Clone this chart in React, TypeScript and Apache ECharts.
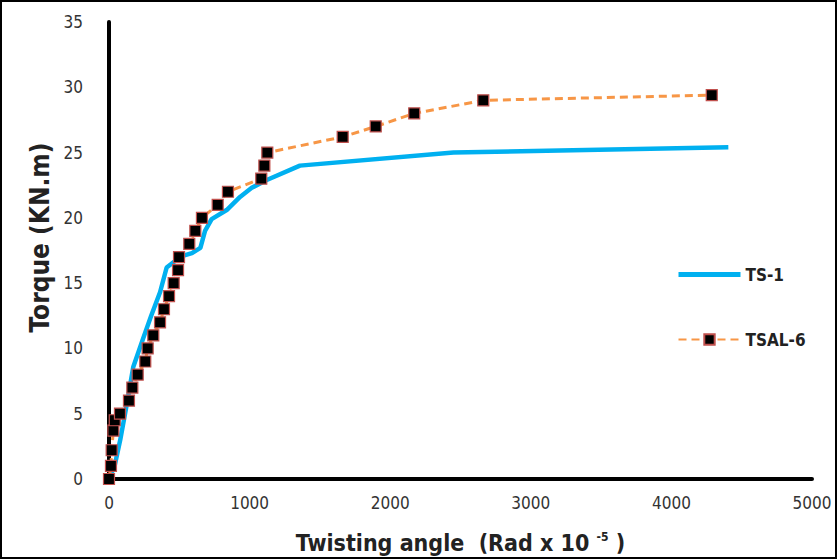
import React, { useEffect, useRef } from "react";
import * as echarts from "echarts";

// TS-1 (solid blue line)
const ts1Angle = [0, 40, 80, 126, 173, 244, 300, 363, 410, 470, 530, 590, 650, 683, 730, 837, 932, 1015, 1122, 1358, 2450, 4405];
const ts1Torque = [0, 1.0, 3.0, 5.7, 8.6, 10.8, 12.5, 14.3, 16.2, 16.7, 17.1, 17.3, 17.7, 19.0, 19.9, 20.6, 21.6, 22.3, 22.9, 24.0, 25.0, 25.4];

// TSAL-6 (dashed orange with square markers)
const tsalAngle = [0, 14, 19, 31, 41, 78, 142, 166, 204, 258, 275, 315, 363, 391, 427, 460, 491, 498, 571, 614, 661, 773, 846, 1083, 1105, 1126, 1662, 1897, 2171, 2662, 4287];
const tsalTorque = [0, 1, 2.2, 3.7, 4.5, 5, 6, 7, 8, 9, 10, 11, 12, 13, 14, 15, 16, 17, 18, 19, 20, 21, 22, 23, 24, 25, 26.2, 27, 28, 29, 29.4];

const xTicks = { min: 0, max: 5000, interval: 1000 };
const yTicks = { min: 0, max: 35, interval: 5 };

const FONT = '"Liberation Sans Narrow", "DejaVu Sans Condensed", "Liberation Sans", sans-serif';

export default function App() {
  const ref = useRef<HTMLDivElement>(null);
  useEffect(() => {
    if (!ref.current) return;
    const chart = echarts.init(ref.current, undefined, { renderer: "svg" });
    const ts1 = ts1Angle.map((a, i) => [a, ts1Torque[i]]);
    const tsal = tsalAngle.map((a, i) => [a, tsalTorque[i]]);
    chart.setOption({
      animation: false,
      backgroundColor: "#ffffff",
      grid: { left: 109, right: 25, top: 22, bottom: 73 },
      graphic: [
        {
          type: "rect",
          shape: { x: 1, y: 1, width: 835, height: 557 },
          style: { fill: "none", stroke: "#000", lineWidth: 2 },
          silent: true,
        },
      ],
      legend: {
        orient: "vertical",
        left: 671,
        top: 261,
        itemWidth: 62,
        itemHeight: 13,
        itemGap: 48,
        data: [
          { name: "TS-1", itemStyle: { opacity: 0 }, lineStyle: { width: 5, color: "#00B0F0" } },
          { name: "TSAL-6" },
        ],
        textStyle: { fontFamily: FONT, fontWeight: "bold", fontSize: 17, color: "#222" },
      },
      xAxis: {
        type: "value",
        min: xTicks.min,
        max: xTicks.max,
        interval: xTicks.interval,
        splitLine: { show: false },
        axisTick: { show: false },
        axisLine: { lineStyle: { color: "#000", width: 4 } },
        axisLabel: { fontFamily: FONT, fontSize: 17, color: "#333", margin: 15, formatter: (v: number) => String(v) },
        name: "Twisting angle  (Rad x 10 {sup|-5} )",
        nameLocation: "middle",
        nameGap: 52,
        nameTextStyle: {
          fontFamily: FONT,
          fontWeight: "bold",
          fontSize: 23,
          color: "#222",
          rich: {
            sup: { fontFamily: FONT, fontWeight: "bold", fontSize: 12, color: "#222", verticalAlign: "top", padding: [0, 0, 10, 0] },
          },
        },
      },
      yAxis: {
        type: "value",
        min: yTicks.min,
        max: yTicks.max,
        interval: yTicks.interval,
        splitLine: { show: false },
        axisTick: { show: false },
        axisLine: { show: true, lineStyle: { color: "#000", width: 4 } },
        axisLabel: { fontFamily: FONT, fontSize: 17, color: "#333", margin: 26 },
        name: "Torque (KN.m)",
        nameLocation: "middle",
        nameGap: 54,
        nameTextStyle: { fontFamily: FONT, fontWeight: "bold", fontSize: 26, color: "#222", padding: [0, 0, 0, 26] },
      },
      series: [
        {
          name: "TS-1",
          type: "line",
          data: ts1,
          symbol: "none",
          lineStyle: { color: "#00B0F0", width: 4.5 },
          itemStyle: { color: "#00B0F0" },
          z: 2,
        },
        {
          name: "TSAL-6",
          type: "line",
          data: tsal,
          symbol: "rect",
          symbolSize: 11,
          lineStyle: { color: "#F79646", width: 3, type: [8, 5] },
          itemStyle: { color: "#000", borderColor: "#C0504D", borderWidth: 1.2 },
          z: 3,
        },
      ],
    });
    return () => chart.dispose();
  }, []);
  return <div ref={ref} style={{ position: "fixed", left: 0, top: 0, width: 837, height: 559 }} />;
}
